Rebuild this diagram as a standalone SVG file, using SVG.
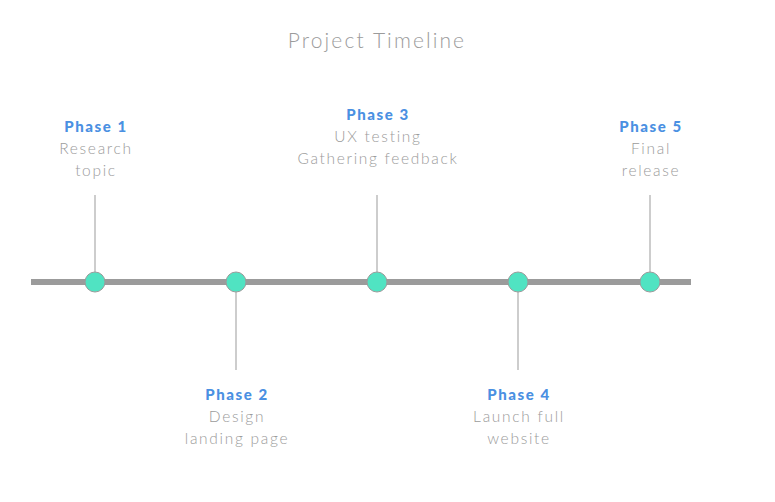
<svg xmlns="http://www.w3.org/2000/svg" width="775" height="502" viewBox="0 0 775 502">
<style>
.title{font-family:Lato,"Noto Sans",sans-serif;font-size:21px;font-weight:300;fill:#9b9b9b;text-anchor:middle;letter-spacing:2.1px}
.ph{font-family:Lato,"Noto Sans",sans-serif;font-size:15px;font-weight:900;fill:#4a90e2;text-anchor:middle;letter-spacing:1.6px}
.tx{font-family:Lato,"Noto Sans",sans-serif;font-size:15.5px;font-weight:300;fill:#9b9b9b;text-anchor:middle;letter-spacing:1.7px}
.stem{stroke:#9b9b9b;stroke-width:1}
.dot{fill:#50e3c2;stroke:#9b9b9b;stroke-width:1}
</style>
<rect width="775" height="502" fill="#ffffff"/>
<text class="title" x="377" y="48">Project Timeline</text>
<g id="connectors">
<line x1="31" y1="282" x2="691" y2="282" stroke="#9b9b9b" stroke-width="6"/>
<line class="stem" x1="95" y1="195" x2="95" y2="272"/>
<line class="stem" x1="236" y1="292" x2="236" y2="370"/>
<line class="stem" x1="377" y1="195" x2="377" y2="272"/>
<line class="stem" x1="518" y1="292" x2="518" y2="370"/>
<line class="stem" x1="650" y1="195" x2="650" y2="272"/>
</g>
<g id="phase1">
<circle class="dot" cx="95" cy="282" r="10"/>
<text class="ph" x="96" y="132">Phase 1</text>
<text class="tx" x="96" y="154">Research</text>
<text class="tx" x="96" y="176">topic</text>
</g>
<g id="phase2">
<circle class="dot" cx="236" cy="282" r="10"/>
<text class="ph" x="237" y="400">Phase 2</text>
<text class="tx" x="237" y="422">Design</text>
<text class="tx" x="237" y="444">landing page</text>
</g>
<g id="phase3">
<circle class="dot" cx="377" cy="282" r="10"/>
<text class="ph" x="378" y="120">Phase 3</text>
<text class="tx" x="378" y="142">UX testing</text>
<text class="tx" x="378" y="164">Gathering feedback</text>
</g>
<g id="phase4">
<circle class="dot" cx="518" cy="282" r="10"/>
<text class="ph" x="519" y="400">Phase 4</text>
<text class="tx" x="519" y="422">Launch full</text>
<text class="tx" x="519" y="444">website</text>
</g>
<g id="phase5">
<circle class="dot" cx="650" cy="282" r="10"/>
<text class="ph" x="651" y="132">Phase 5</text>
<text class="tx" x="651" y="154">Final</text>
<text class="tx" x="651" y="176">release</text>
</g>
</svg>
